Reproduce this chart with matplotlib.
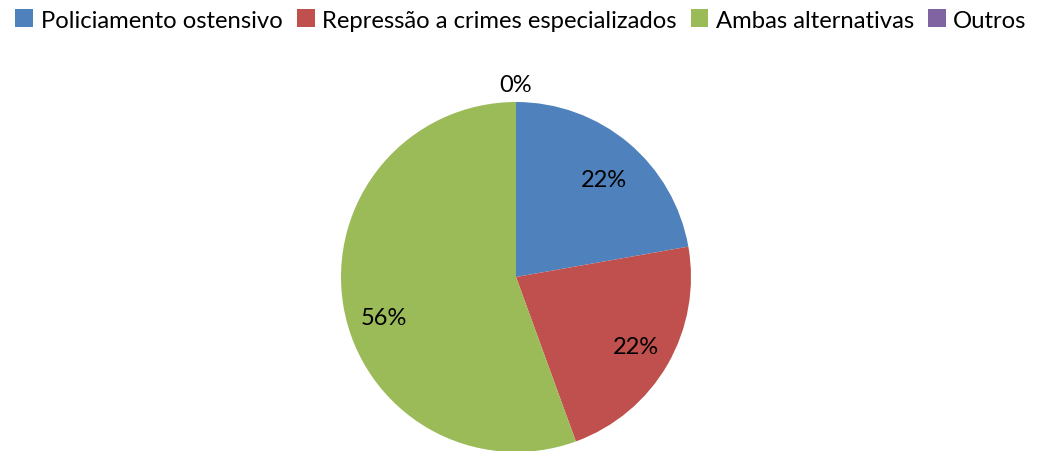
import matplotlib
matplotlib.use("Agg")
import matplotlib.pyplot as plt
from matplotlib.patches import Patch
import numpy as np

categories = ["Policiamento ostensivo", "Repressão a crimes especializados", "Ambas alternativas", "Outros"]
values = [2, 2, 5, 0]
colors = ["#4F81BD", "#C0504D", "#9BBB59", "#8064A2"]

# label placement tweaks (radius fraction, angle offset in degrees)
label_dist = [0.75, 0.79, 0.79, 1.1]
label_ang_off = [-2, 0, 7, 0]

plt.rcParams['font.family'] = ['Lato', 'DejaVu Sans']

W, H = 1042, 452
fig = plt.figure(figsize=(W / 100, H / 100), dpi=100)
cx, cy, r = 516, 278, 175
ax = fig.add_axes([(cx - r) / W, (H - cy - r) / H, 2 * r / W, 2 * r / H])
wedges, _ = ax.pie(values, colors=colors, startangle=90, counterclock=False,
                   radius=1.0, wedgeprops=dict(linewidth=0))
ax.set_xlim(-1, 1)
ax.set_ylim(-1, 1)
ax.set_aspect('equal')
ax.axis('off')

total = sum(values)
for w, v, d, off in zip(wedges, values, label_dist, label_ang_off):
    ang = np.deg2rad((w.theta1 + w.theta2) / 2 + off)
    ax.text(d * np.cos(ang), d * np.sin(ang), f"{round(100 * v / total)}%",
            ha='center', va='center', fontsize=17, color='black')

handles = [Patch(facecolor=c, edgecolor='none') for c in colors]
fig.legend(handles, categories, loc='center', bbox_to_anchor=(0.5, 1 - 21 / H),
           ncol=4, frameon=False, fontsize=17.2, handlelength=0.75, handleheight=0.75,
           handletextpad=0.3, columnspacing=0.6, borderaxespad=0)

fig.savefig("out.png", dpi=100)
